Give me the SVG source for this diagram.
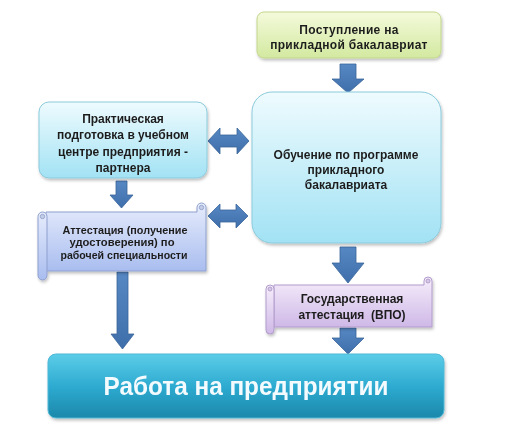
<svg xmlns="http://www.w3.org/2000/svg" width="507" height="425" viewBox="0 0 507 425">
<defs>
  <linearGradient id="gGreen" x1="0" y1="0" x2="0" y2="1">
    <stop offset="0" stop-color="#f4fadb"/>
    <stop offset="1" stop-color="#d3e9a0"/>
  </linearGradient>
  <linearGradient id="gCyan" x1="0" y1="0" x2="0" y2="1">
    <stop offset="0" stop-color="#eefbfe"/>
    <stop offset="1" stop-color="#a2e2f4"/>
  </linearGradient>
  <linearGradient id="gBlueScroll" x1="0" y1="0" x2="0" y2="1">
    <stop offset="0" stop-color="#e6ecfc"/>
    <stop offset="1" stop-color="#a9bdef"/>
  </linearGradient>
  <linearGradient id="gViolet" x1="0" y1="0" x2="0" y2="1">
    <stop offset="0" stop-color="#f6eefb"/>
    <stop offset="1" stop-color="#cfb8e7"/>
  </linearGradient>
  <linearGradient id="gTeal" x1="0" y1="0" x2="0" y2="1">
    <stop offset="0" stop-color="#5ccde8"/>
    <stop offset="0.5" stop-color="#2eabd1"/>
    <stop offset="1" stop-color="#1b88aa"/>
  </linearGradient>
  <linearGradient id="gArrow" x1="0" y1="0" x2="0" y2="1">
    <stop offset="0" stop-color="#5688c4"/>
    <stop offset="1" stop-color="#3f6fab"/>
  </linearGradient>
  <filter id="sh" x="-10%" y="-10%" width="120%" height="130%">
    <feDropShadow dx="1" dy="2" stdDeviation="1.5" flood-color="#000" flood-opacity="0.25"/>
  </filter>
  <style>
    .t { font-family: "Liberation Sans", Arial, sans-serif; font-weight: bold; font-size: 12px; fill: #1e1e1e; text-anchor: middle; }
    .ts { font-family: "Liberation Sans", Arial, sans-serif; font-weight: bold; font-size: 11px; fill: #1e1e1e; text-anchor: middle; }
    .arrow { fill: url(#gArrow); stroke: #3a649a; stroke-width: 0.8; }
    .curl { fill: #c4cde6; stroke: #8c9cc8; stroke-width: 0.8; }
  </style>
</defs>

<g id="connectors">
  <path class="arrow" d="M340,64 H356 V79 H364 L348,93 L332,79 H340 Z"/>
  <path class="arrow" d="M116,181 H127 V195 H133 L121.5,208 L110,195 H116 Z"/>
  <path class="arrow" d="M117,272 H128 V334 H134 L122.5,349 L111,334 H117 Z"/>
  <path class="arrow" d="M340,247 H356 V263 H364 L348,283 L332,263 H340 Z"/>
  <path class="arrow" d="M340,328 H356 V338 H364 L348,354 L332,338 H340 Z"/>
  <path class="arrow" d="M208,141 L220,128 V135 H237 V128 L249,141 L237,154 V147 H220 V154 Z"/>
  <path class="arrow" d="M208,216 L220,204 V210 H236 V204 L248,216 L236,228 V222 H220 V228 Z"/>
</g>

<g id="node-admission" filter="url(#sh)">
  <rect x="257" y="12" width="184" height="46" rx="7" fill="url(#gGreen)" stroke="#c3d68c" stroke-width="1"/>
  <text class="t" x="349" y="34" letter-spacing="0.3">Поступление на</text>
  <text class="t" x="349" y="48.5" letter-spacing="0.3">прикладной бакалавриат</text>
</g>

<g id="node-study" filter="url(#sh)">
  <rect x="252" y="92" width="189" height="151" rx="20" fill="url(#gCyan)" stroke="#8ccbdc" stroke-width="1"/>
  <text class="t" x="346" y="158.5">Обучение по программе</text>
  <text class="t" x="346" y="173.5">прикладного</text>
  <text class="t" x="346" y="188.5">бакалавриата</text>
</g>

<g id="node-practice" filter="url(#sh)">
  <rect x="39" y="102" width="168" height="76" rx="10" fill="url(#gCyan)" stroke="#8ccbdc" stroke-width="1"/>
  <text class="t" x="123" y="122.5">Практическая</text>
  <text class="t" x="123" y="139">подготовка в учебном</text>
  <text class="t" x="123" y="155.5">центре предприятия -</text>
  <text class="t" x="123" y="172">партнера</text>
</g>

<g id="node-attestation" filter="url(#sh)">
  <path d="M46,212 H197 V207.5 A4.5,4.5 0 0 1 206,207.5 V271 H46 Z" fill="url(#gBlueScroll)" stroke="#8e9fce" stroke-width="1"/>
  <path d="M38,216.5 A4.5,4.5 0 0 1 47,216.5 V275.5 A4.5,4.5 0 0 1 38,275.5 Z" fill="url(#gBlueScroll)" stroke="#8e9fce" stroke-width="1"/>
  <circle class="curl" cx="201.5" cy="207.5" r="2.2"/>
  <circle class="curl" cx="42.5" cy="216.5" r="2.2"/>
  <text class="ts" x="125" y="233.5" textLength="125" lengthAdjust="spacingAndGlyphs">Аттестация (получение</text>
  <text class="ts" x="122" y="246" textLength="105" lengthAdjust="spacingAndGlyphs">удостоверения) по</text>
  <text class="ts" x="124" y="258.5" textLength="127" lengthAdjust="spacingAndGlyphs">рабочей специальности</text>
</g>

<g id="node-state-attestation" filter="url(#sh)">
  <path d="M274,285 H424 V281 A4,4 0 0 1 432,281 V327 H274 Z" fill="url(#gViolet)" stroke="#b29ccc" stroke-width="1"/>
  <path d="M266,289 A4,4 0 0 1 274,289 V330 A4,4 0 0 1 266,330 Z" fill="url(#gViolet)" stroke="#b29ccc" stroke-width="1"/>
  <circle cx="428" cy="281" r="2" fill="#d6c8e6" stroke="#a892c4" stroke-width="0.8"/>
  <circle cx="270" cy="289" r="2" fill="#d6c8e6" stroke="#a892c4" stroke-width="0.8"/>
  <text class="t" x="352" y="303">Государственная</text>
  <text class="t" x="352" y="319" xml:space="preserve">аттестация  (ВПО)</text>
</g>

<g id="node-work" filter="url(#sh)">
  <rect x="48" y="354" width="396" height="64" rx="8" fill="url(#gTeal)" stroke="#4fb8d6" stroke-width="1"/>
  <text x="246" y="395" font-family="Liberation Sans, Arial, sans-serif" font-weight="bold" font-size="25" fill="#f4fbff" text-anchor="middle" textLength="285" lengthAdjust="spacingAndGlyphs">Работа на предприятии</text>
</g>
</svg>
